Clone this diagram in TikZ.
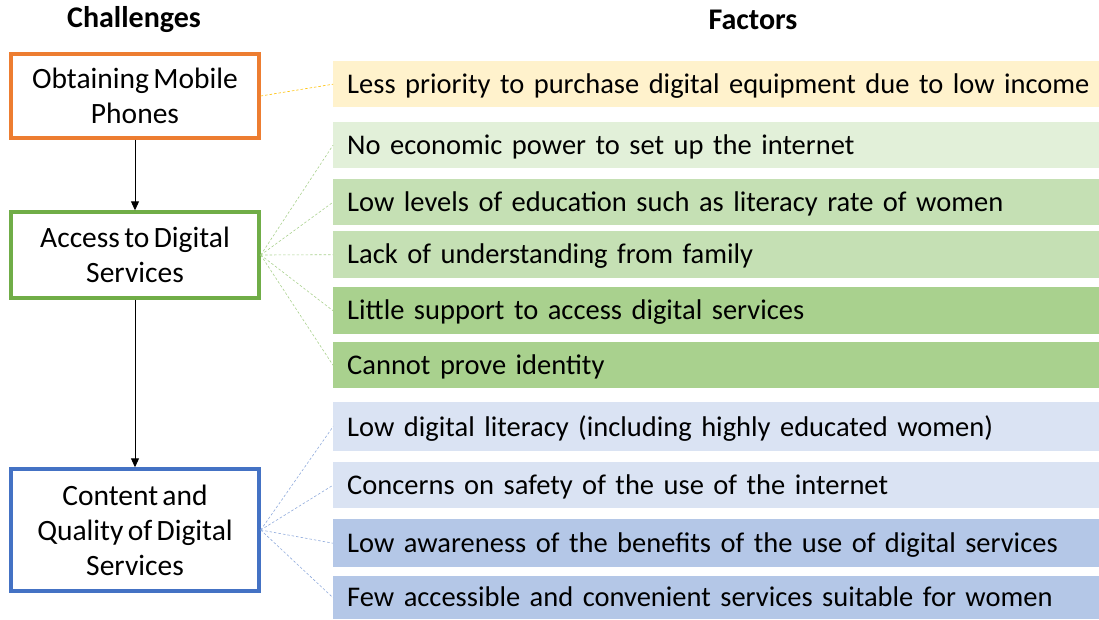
\documentclass[tikz,border=0pt]{standalone}
\usepackage{fontspec}
\setmainfont{Carlito}[WordSpace=0.65]
\usetikzlibrary{arrows.meta}
\definecolor{cOrange}{HTML}{ED7D31}
\definecolor{cGreen}{HTML}{70AD47}
\definecolor{cBlue}{HTML}{4472C4}
\definecolor{fYellow}{HTML}{FFF2CC}
\definecolor{fGreenA}{HTML}{E2F0D9}
\definecolor{fGreenB}{HTML}{C5E0B4}
\definecolor{fGreenC}{HTML}{A9D18E}
\definecolor{fBlueA}{HTML}{DAE3F3}
\definecolor{fBlueB}{HTML}{B4C7E7}
\definecolor{lYellow}{HTML}{FFC000}
\definecolor{lGreen}{HTML}{A9D18E}
\definecolor{lBlue}{HTML}{8FAADC}
\begin{document}
\begin{tikzpicture}[x=1pt,y=-1pt,
  header/.style={font=\fontsize{30}{34}\selectfont\bfseries},
  chbox/.style={draw, line width=3.4pt, fill=white, minimum width=248pt, align=center,
     font=\fontsize{29.5}{35}\selectfont, inner sep=0pt},
  factor/.style={anchor=north west, minimum width=766pt, text width=760pt, inner xsep=14pt,
     inner ysep=0pt, align=left, text depth=2pt, font=\fontsize{28.5}{32}\selectfont},
  link/.style={dashed, line width=0.6pt, dash pattern=on 2.5pt off 2pt},
  flow/.style={-{Triangle[length=9pt,width=8pt]}, line width=0.9pt}]
\useasboundingbox (0,0) rectangle (1099,619);
\node[header] (hc) at (134,20) {Challenges};
\node[header] (hf) at (753,20) {Factors};

\node[chbox, draw=cOrange, minimum height=84pt] (c1) at (135,96) {Obtaining Mobile\\Phones};
\node[chbox, draw=cGreen, minimum height=86pt] (c2) at (135,255) {Access to Digital\\Services};
\node[chbox, draw=cBlue, minimum height=122pt] (c3) at (135,530) {Content and\\Quality of Digital\\Services};

\draw[flow] (c1) -- (c2);
\draw[flow] (c2) -- (c3);

\node[factor, fill=fYellow, minimum height=46pt] (f1) at (333,61) {Less priority to purchase digital equipment due to low income};
\node[factor, fill=fGreenA, minimum height=46pt] (f2) at (333,122) {No economic power to set up the internet};
\node[factor, fill=fGreenB, minimum height=46pt] (f3) at (333,179) {Low levels of education such as literacy rate of women};
\node[factor, fill=fGreenB, minimum height=47pt] (f4) at (333,231) {Lack of understanding from family};
\node[factor, fill=fGreenC, minimum height=47pt] (f5) at (333,287) {Little support to access digital services};
\node[factor, fill=fGreenC, minimum height=46pt] (f6) at (333,342) {Cannot prove identity};
\node[factor, fill=fBlueA, minimum height=49pt] (f7) at (333,402) {Low digital literacy (including highly educated women)};
\node[factor, fill=fBlueA, minimum height=46pt] (f8) at (333,462) {Concerns on safety of the use of the internet};
\node[factor, fill=fBlueB, minimum height=48pt] (f9) at (333,519) {Low awareness of the benefits of the use of digital services};
\node[factor, fill=fBlueB, minimum height=43pt] (f10) at (333,576) {Few accessible and convenient services suitable for women};

\draw[link, lYellow] (c1.east) -- (f1.west);
\foreach \f in {f2,f3,f4,f5,f6}{\draw[link, lGreen] (c2.east) -- (\f.west);}
\foreach \f in {f7,f8,f9,f10}{\draw[link, lBlue] (c3.east) -- (\f.west);}
\end{tikzpicture}
\end{document}
